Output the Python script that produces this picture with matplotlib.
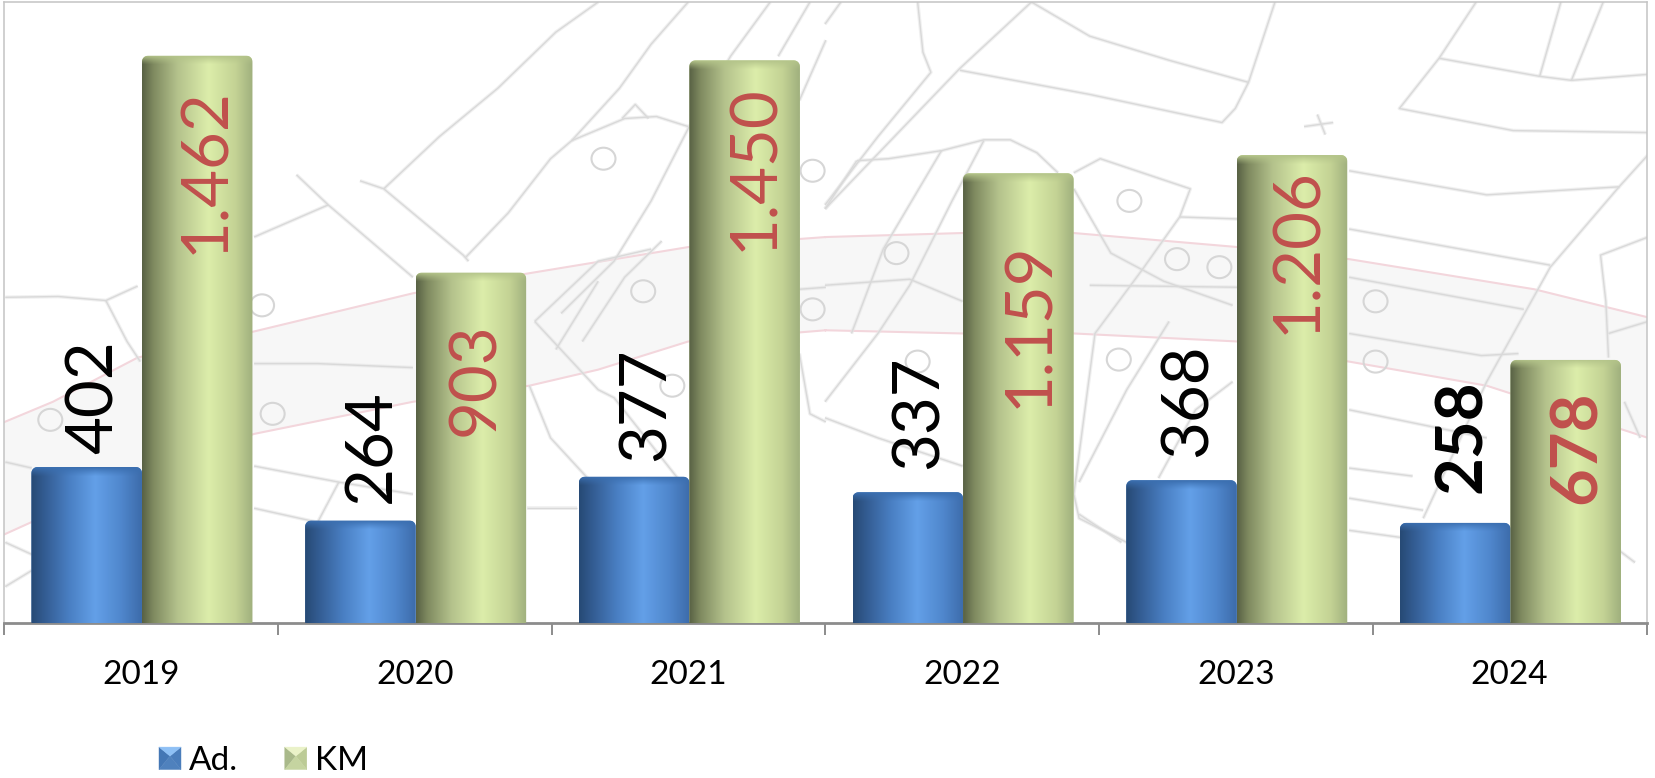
import numpy as np
import matplotlib
matplotlib.use("Agg")
import matplotlib.pyplot as plt
from matplotlib.path import Path
from matplotlib.patches import PathPatch, Polygon, Ellipse
from matplotlib.collections import LineCollection
from matplotlib.legend_handler import HandlerBase
from matplotlib.colors import to_rgb

plt.rcParams['font.family'] = ['Lato', 'DejaVu Sans']

years = ["2019", "2020", "2021", "2022", "2023", "2024"]
ad_values = [402, 264, 377, 337, 368, 258]
km_values = [1462, 903, 1450, 1159, 1206, 678]
series_names = ["Ad.", "KM"]

# hand-placed label offsets from each bar's top (pixels)
ad_offsets = [(7.8, 70.2), (12.2, 74.1), (12.7, 72.2), (12.1, 79.7), (7.2, 80.2), (8.2, 86.2)]
km_offsets = [(9, -114.7), (5.1, -106.8), (11, -107.3), (12, -151.7), (6.1, -95.7), (12.3, -86.9)]
bold_last = True

W, H = 1655, 778
L, R, T, B = 4.3, 1646.5, 2.2, 623.0
BAR_W = 110.5 / 273.7
RED = "#c0504d"

fig = plt.figure(figsize=(W / 100, H / 100), dpi=100, facecolor="white")
rect = [L / W, 1 - B / H, (R - L) / W, (B - T) / H]

# ---------- decorative map backdrop (pixel space) ----------
bg = fig.add_axes(rect, zorder=0)
bg.set_xlim(L, R)
bg.set_ylim(B, T)
bg.axis("off")
SX, SY = 1.889, 2.489
def lp(pts):
    return [(x / SX, y / SY) for x, y in pts]
def rp(pts):
    return [(825 + x / SX, y / SY) for x, y in pts]

band_up = lp([(0,1055),(100,1000),(260,890),(480,825),(780,730),(1000,680),(1300,615),(1560,590)]) + \
          rp([(0,590),(260,580),(470,580),(780,615),(990,645),(1340,720),(1555,790)])
band_lo = lp([(0,1335),(260,1180),(480,1080),(780,1000),(1000,960),(1130,920),(1300,850),(1560,822)]) + \
          rp([(0,822),(260,830),(470,830),(780,850),(990,900),(1250,960),(1555,1090)])
bg.add_patch(Polygon(band_up + band_lo[::-1], closed=True, fc="#f7f7f7", ec="none", zorder=1))
bg.add_collection(LineCollection([band_up, band_lo], colors="#f3d6dc", linewidths=1.5, zorder=3))

left_lines = [
    [(1130,5),(1050,80),(940,220),(830,340),(725,470)],
    [(680,450),(725,470),(875,635),(885,650)],
    [(1300,5),(1230,110),(1170,220),(1080,350),(1040,395),(960,530),(880,640)],
    [(1455,5),(1380,140),(1300,320),(1230,500),(1160,650),(1060,780)],
    [(1530,5),(1470,140)],
    [(560,435),(620,510),(780,690)],
    [(620,510),(480,590)],
    [(10,740),(110,738),(200,748),(260,712)],
    [(200,748),(240,850),(265,900)],
    [(1080,350),(1180,295),(1240,290),(1300,315)],
    [(1175,295),(1200,260),(1225,295)],
    [(480,905),(600,905),(780,915)],
    [(1010,800),(1130,650),(1230,620)],
    [(1050,870),(1130,700)],
    [(1100,850),(1180,690),(1250,600)],
    [(1010,800),(1130,970),(1160,990),(1280,1190)],
    [(1000,960),(1040,1090),(1110,1190)],
    [(480,1160),(640,1200),(780,1230)],
    [(640,1200),(600,1300)],
    [(480,1265),(600,1300)],
    [(995,1265),(1090,1265)],
    [(10,1150),(60,1165)],
    [(10,1460),(60,1420)],
    [(10,1350),(60,1380)],
    [(1510,880),(1530,1030),(1560,1050)],
    [(1510,250),(1560,100)],
    [(1510,720),(1560,715)],
]
right_lines = [
    [(390,5),(255,170),(0,520)],
    [(255,175),(500,235),(750,305),(775,270),(800,205),(850,5)],
    [(390,5),(500,90),(650,150),(800,205)],
    [(1230,5),(1160,145),(1085,270),(1300,325),(1555,330)],
    [(1160,145),(1350,190),(1410,200),(1555,185)],
    [(1350,190),(1390,5)],
    [(1410,200),(1470,5)],
    [(175,5),(185,130),(200,180),(100,340),(0,510)],
    [(30,5),(0,60)],
    [(60,400),(120,395),(220,375),(300,348),(350,348),(400,380),(440,430)],
    [(300,350),(240,500),(160,710),(100,830),(0,1000)],
    [(220,375),(110,620),(50,830)],
    [(60,400),(0,520)],
    [(470,430),(520,395),(690,470),(670,540),(600,670),(510,830),(470,1230),(480,1290),(570,1350)],
    [(470,470),(540,630),(640,700),(770,760)],
    [(670,540),(780,545)],
    [(990,425),(1250,485),(1500,465),(1555,385)],
    [(1500,465),(1370,665),(1250,950),(1130,1290)],
    [(990,570),(1370,660)],
    [(990,690),(1320,770)],
    [(990,830),(1240,885),(1310,880)],
    [(990,1020),(1250,1090)],
    [(990,1165),(1110,1185)],
    [(990,1240),(1130,1270)],
    [(990,1320),(1100,1340)],
    [(1555,590),(1465,635),(1475,750),(1480,890)],
    [(1480,830),(1555,800)],
    [(1510,1000),(1540,1090)],
    [(905,315),(960,305)],
    [(930,285),(945,335)],
    [(480,1200),(570,970),(650,800)],
    [(630,1190),(700,1020),(770,950)],
    [(0,1040),(100,1090),(260,1160)],
    [(0,710),(160,695),(260,750)],
    [(500,710),(780,715)],
    [(1530,1400),(1500,1370)],
    [(480,1280),(560,1350)],
]
segs = [lp(s) for s in left_lines] + [rp(s) for s in right_lines]
# soft halo plus core line imitates the blurred scan of the plan
bg.add_collection(LineCollection(segs, colors="#e6e6e6", linewidths=2.6, alpha=0.6, zorder=4))
bg.add_collection(LineCollection(segs, colors="#d9d9d9", linewidths=1.0, zorder=5))

left_circles = [(95,1045),(515,1030),(495,760),(1270,960),(1215,725),(1535,425),(1535,770),(1140,395)]
right_circles = [(575,500),(665,645),(745,665),(555,895),(175,900),(135,630),(1040,750),(1040,900)]
for cx, cy in lp(left_circles) + rp(right_circles):
    bg.add_patch(Ellipse((cx, cy), 24, 22, fc="none", ec="#d6d6d6", lw=1.5, zorder=5))

# ---------- main chart ----------
ax = fig.add_axes(rect, zorder=1)
ax.patch.set_alpha(0)
ax.set_xlim(-0.5, 5.5)
ax.set_ylim(0, 1600)
px_x = (R - L) / 6
px_y = (B - T) / 1600
SHIFT = 0.8 / px_x

def gradient(stops, n):
    xs = [s[0] for s in stops]
    cols = np.array([to_rgb(s[1]) for s in stops])
    t = np.linspace(0, 1, n)
    return np.stack([np.interp(t, xs, cols[:, k]) for k in range(3)], axis=1)

BLUE = [(0, "#274a75"), (0.12, "#335c92"), (0.35, "#4a80c4"), (0.58, "#63a0e8"),
        (0.82, "#4f86cc"), (1, "#3d6cab")]
GREEN = [(0, "#596245"), (0.1, "#7f8a60"), (0.32, "#b4c28c"), (0.6, "#dcedaa"),
         (0.85, "#c3d294"), (1, "#a0b07e")]
CAPS = {"blue": "#3b6fb0", "green": "#b4c48a"}

def rounded(x0, x1, top):
    rx, ry = 6 / px_x, 6 / px_y
    a = np.linspace(np.pi, np.pi / 2, 8)
    b = np.linspace(np.pi / 2, 0, 8)
    pts = [(x0, 0)] + [(x0 + rx + rx * np.cos(t), top - ry + ry * np.sin(t)) for t in a] + \
          [(x1 - rx + rx * np.cos(t), top - ry + ry * np.sin(t)) for t in b] + [(x1, 0), (x0, 0)]
    return Path(pts)

def draw_series(positions, values, stops, cap, fill):
    bars = ax.bar(positions, values, width=BAR_W, align="edge", color=fill, zorder=2)
    for rect_, v in zip(bars, values):
        x0, x1 = rect_.get_x(), rect_.get_x() + rect_.get_width()
        clip = PathPatch(rounded(x0, x1, v), transform=ax.transData)
        rect_.set_clip_path(clip)
        n_h = max(int(v * px_y), 2)
        row = gradient(stops, 110)
        img = np.repeat(row[None, :, :], n_h, axis=0)
        t = np.clip(1 - np.arange(n_h) / 9.0, 0, 1)[:, None, None] ** 1.2
        img = img * (1 - t) + np.array(to_rgb(cap))[None, None, :] * t
        im = ax.imshow(img, extent=(x0, x1, 0, v), aspect="auto", zorder=3, interpolation="bilinear")
        im.set_clip_path(clip)

x_pos = np.arange(len(years))
draw_series(x_pos - BAR_W + SHIFT, ad_values, BLUE, CAPS["blue"], "#4f81bd")
draw_series(x_pos + SHIFT, km_values, GREEN, CAPS["green"], "#c3d69b")
ax.set_xlim(-0.5, 5.5)
ax.set_ylim(0, 1600)

def labels(positions, values, offsets, color):
    for i, (x, v, off) in enumerate(zip(positions, values, offsets)):
        ax.annotate(f"{v:,}".replace(",", "."), xy=(x + BAR_W / 2, v), xytext=off,
                    textcoords="offset pixels", rotation=90, ha="center", va="center",
                    fontsize=47, color=color, zorder=5,
                    fontweight="bold" if (bold_last and i == len(values) - 1) else "normal")

labels(x_pos - BAR_W, ad_values, ad_offsets, "black")
labels(x_pos, km_values, km_offsets, RED)

# axes furniture
ax.set_yticks([])
ax.set_xticks(np.arange(-0.5, 6, 1))
ax.set_xticklabels([])
ax.set_xticks(x_pos, minor=True)
ax.set_xticklabels(years, minor=True, fontsize=24, color="black")
ax.tick_params(axis="x", which="major", length=8.5, width=1.4, color="#8c8c8c")
ax.tick_params(axis="x", which="minor", length=0, pad=26.5)
for s in ("left", "top", "right"):
    ax.spines[s].set_color("#c4c4c4")
    ax.spines[s].set_linewidth(1.1)
ax.spines["bottom"].set_color("#8c8c8c")
ax.spines["bottom"].set_linewidth(2)

# legend with pyramid-shaded swatches
class Pyramid(HandlerBase):
    def __init__(self, tri):
        super().__init__()
        self.tri = tri
    def create_artists(self, legend, orig, xd, yd, w, h, fs, trans):
        x0, y0 = -xd, -yd
        c = (x0 + w / 2, y0 + h * 0.6)
        a, b, d, e = (x0, y0), (x0 + w, y0), (x0 + w, y0 + h), (x0, y0 + h)
        faces = [(a, e, self.tri[1]), (b, d, self.tri[2]), (a, b, self.tri[3]), (e, d, self.tri[0])]
        return [Polygon([p, q, c], closed=True, fc=col, ec=col, lw=0.3, transform=trans)
                for p, q, col in faces]

h_ad, h_km = plt.Rectangle((0, 0), 1, 1), plt.Rectangle((0, 0), 1, 1)
fig.legend([h_ad, h_km], series_names,
           handler_map={h_ad: Pyramid(["#8ec0f5", "#4477b5", "#4a7dbb", "#4f81bd"]),
                        h_km: Pyramid(["#eaf2c8", "#a9b98a", "#bccb96", "#c5d4a0"])},
           loc="lower left", bbox_to_anchor=(159 / W, 1 - 776 / H), ncol=2, frameon=False,
           fontsize=24, handlelength=0.66, handleheight=0.66, handletextpad=0.24,
           columnspacing=1.4, borderpad=0, borderaxespad=0)

fig.savefig("out.png", dpi=100)
